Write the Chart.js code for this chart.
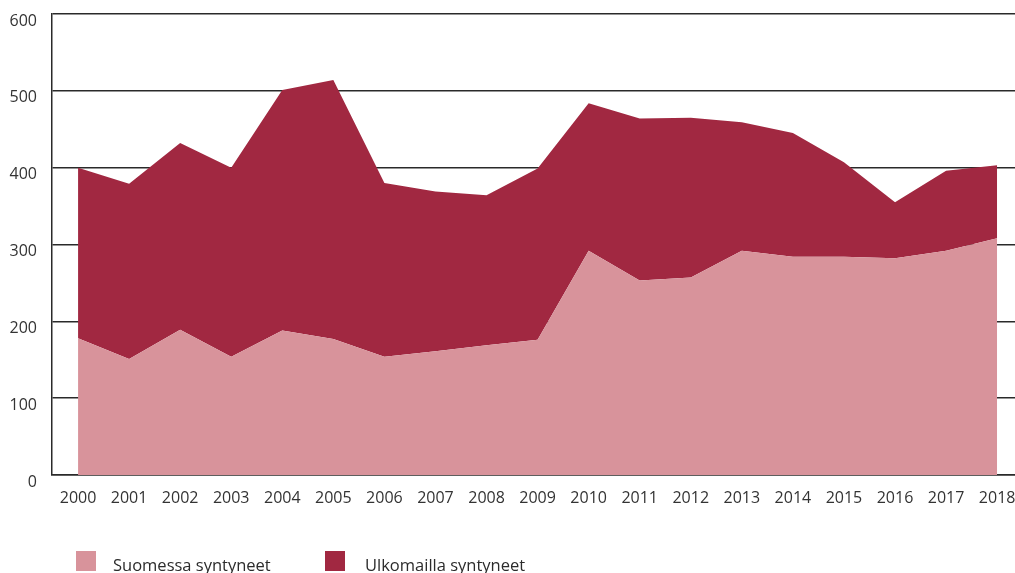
<!DOCTYPE html>
<html>
<head>
<meta charset="utf-8">
<script src="https://cdn.jsdelivr.net/npm/chart.js@4"></script>
<style>
  html, body { margin: 0; padding: 0; background: #fff; }
  #wrap { position: relative; width: 1015px; height: 573px; overflow: hidden; }
  canvas { position: absolute; left: 0; top: 0; }
  .lg { position: absolute; font-family: "Open Sans", sans-serif; font-size: 16.5px; line-height: 20px; color: #2b2b2b; white-space: nowrap; }
  .sw { position: absolute; width: 20px; height: 20px; }
</style>
</head>
<body>
<div id="wrap">
  <canvas id="c" width="1015" height="573"></canvas>
  <div class="sw" id="sw0" style="left:76px; top:551px;"></div>
  <div class="lg" id="lg0" style="left:113px; top:555px;"></div>
  <div class="sw" id="sw1" style="left:325px; top:551px;"></div>
  <div class="lg" id="lg1" style="left:365px; top:555px;"></div>
</div>
<script>
// ---- data ----
const years = [2000, 2001, 2002, 2003, 2004, 2005, 2006, 2007, 2008, 2009,
               2010, 2011, 2012, 2013, 2014, 2015, 2016, 2017, 2018];
const seriesNames = ["Suomessa syntyneet", "Ulkomailla syntyneet"];
const suomessa   = [178, 151, 189, 154, 188, 177, 154, 161, 169, 176,
                    292, 253, 257, 292, 284, 284, 282, 292, 308];
const ulkomailla = [222, 228, 243, 246, 313, 337, 226, 208, 195, 223,
                    192, 211, 208, 167, 161, 123, 73, 104, 95];
const yTicks = [0, 100, 200, 300, 400, 500, 600];

const colors = ["#D8939B", "#A12841"];

// legend (HTML)
document.getElementById("sw0").style.background = colors[0];
document.getElementById("sw1").style.background = colors[1];
document.getElementById("lg0").textContent = seriesNames[0];
document.getElementById("lg1").textContent = seriesNames[1];

const toPts = arr => years.map((yr, i) => ({ x: yr, y: arr[i] }));
const tickFont = { family: "'Open Sans', sans-serif", size: 16 };

new Chart(document.getElementById("c"), {
  type: "line",
  data: {
    datasets: [
      {
        label: seriesNames[0],
        data: toPts(suomessa),
        backgroundColor: colors[0],
        borderColor: colors[0],
        borderWidth: 0,
        pointRadius: 0,
        fill: "origin",
        tension: 0
      },
      {
        label: seriesNames[1],
        data: toPts(ulkomailla),
        backgroundColor: colors[1],
        borderColor: colors[1],
        borderWidth: 0,
        pointRadius: 0,
        fill: "-1",
        tension: 0
      }
    ]
  },
  options: {
    responsive: false,
    animation: false,
    layout: { padding: { top: 14, left: 0, right: 0, bottom: 0 } },
    plugins: {
      legend: { display: false },
      tooltip: { enabled: false },
      filler: { propagate: false }
    },
    scales: {
      x: {
        type: "linear",
        min: years[0] - 0.51,
        max: years[years.length - 1] + 0.35,
        afterBuildTicks: s => { s.ticks = years.map(v => ({ value: v })); },
        afterFit: s => { s.height = 98; s.paddingLeft = 0; s.paddingRight = 0; },
        grid: { display: false, drawTicks: false },
        border: { display: true, color: "#2a2a2a", width: 1.5 },
        ticks: {
          autoSkip: false,
          maxRotation: 0,
          padding: 14,
          color: "#333",
          font: tickFont,
          callback: v => String(v)
        }
      },
      y: {
        stacked: true,
        min: yTicks[0],
        max: yTicks[yTicks.length - 1],
        afterBuildTicks: s => { s.ticks = yTicks.map(v => ({ value: v })); },
        afterFit: s => { s.width = 52; s.paddingTop = 0; s.paddingBottom = 0; },
        grid: { color: "#2a2a2a", lineWidth: 1.5, drawTicks: false },
        border: { display: true, color: "#2a2a2a", width: 1.5 },
        ticks: {
          padding: 15,
          labelOffset: 7,
          color: "#333",
          font: tickFont,
          callback: v => String(v)
        }
      }
    }
  }
});
</script>
</body>
</html>
